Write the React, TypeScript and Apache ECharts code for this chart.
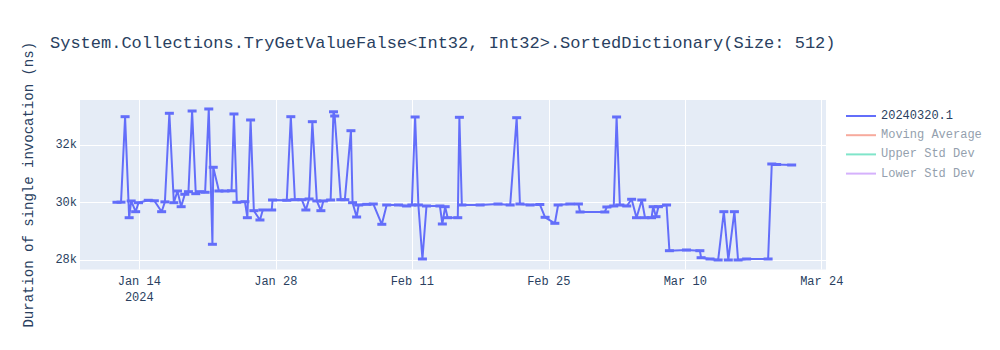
import React, { useEffect, useRef } from "react";
import * as echarts from "echarts";

const dates: string[] = [
  "2024-01-11 17:00", "2024-01-12 03:00", "2024-01-12 13:00", "2024-01-12 23:00", "2024-01-13 04:00",
  "2024-01-13 15:00", "2024-01-13 22:00", "2024-01-14 22:00", "2024-01-15 13:00", "2024-01-16 07:00",
  "2024-01-16 15:00", "2024-01-17 02:00", "2024-01-17 13:00", "2024-01-17 22:00", "2024-01-18 07:00",
  "2024-01-18 16:00", "2024-01-19 01:00", "2024-01-19 10:00", "2024-01-19 19:00", "2024-01-20 05:00",
  "2024-01-20 18:00", "2024-01-21 03:00", "2024-01-21 12:00", "2024-01-21 14:00", "2024-01-22 04:00",
  "2024-01-22 19:00", "2024-01-23 11:00", "2024-01-23 17:00", "2024-01-24 00:00", "2024-01-24 20:00",
  "2024-01-25 02:00", "2024-01-25 10:00", "2024-01-25 18:00", "2024-01-26 09:00", "2024-01-26 16:00",
  "2024-01-27 14:00", "2024-01-27 16:00", "2024-01-29 03:00", "2024-01-29 13:00", "2024-01-29 23:00",
  "2024-01-30 16:00", "2024-01-31 02:00", "2024-01-31 10:00", "2024-01-31 18:00", "2024-02-01 05:00",
  "2024-02-01 15:00", "2024-02-01 21:00", "2024-02-02 15:00", "2024-02-02 22:00", "2024-02-03 01:00",
  "2024-02-03 16:00", "2024-02-04 02:00", "2024-02-04 17:00", "2024-02-04 21:00", "2024-02-05 07:00",
  "2024-02-05 12:00", "2024-02-06 08:00", "2024-02-07 00:00", "2024-02-07 21:00", "2024-02-08 09:00",
  "2024-02-09 14:00", "2024-02-10 10:00", "2024-02-10 23:00", "2024-02-11 07:00", "2024-02-11 15:00",
  "2024-02-12 01:00", "2024-02-12 11:00", "2024-02-13 20:00", "2024-02-14 02:00", "2024-02-14 09:00",
  "2024-02-14 15:00", "2024-02-15 16:00", "2024-02-15 20:00", "2024-02-16 02:00", "2024-02-17 23:00",
  "2024-02-19 19:00", "2024-02-21 01:00", "2024-02-21 17:00", "2024-02-22 01:00", "2024-02-23 02:00",
  "2024-02-24 02:00", "2024-02-24 15:00", "2024-02-25 15:00", "2024-02-25 23:00", "2024-02-27 04:00",
  "2024-02-28 01:00", "2024-02-28 05:00", "2024-03-01 18:00", "2024-03-01 23:00", "2024-03-02 16:00",
  "2024-03-02 23:00", "2024-03-03 07:00", "2024-03-04 00:00", "2024-03-04 12:00", "2024-03-05 00:00",
  "2024-03-05 13:00", "2024-03-05 21:00", "2024-03-06 13:00", "2024-03-06 17:00", "2024-03-07 00:00",
  "2024-03-07 06:00", "2024-03-08 02:00", "2024-03-08 09:00", "2024-03-10 03:00", "2024-03-11 12:00",
  "2024-03-11 15:00", "2024-03-12 13:00", "2024-03-13 09:00", "2024-03-13 23:00", "2024-03-14 10:00",
  "2024-03-15 01:00", "2024-03-15 10:00", "2024-03-16 07:00", "2024-03-18 12:00", "2024-03-18 21:00",
  "2024-03-19 09:00", "2024-03-20 22:00",
];

const values: number[] = [
  30016, 30020, 32980, 29482, 30061,
  29690, 30002, 30085, 30068, 29690,
  30030, 33098, 30002, 30407, 29863,
  30293, 30383, 33177, 30314, 30383,
  30362, 33247, 28561, 31228, 30407,
  30407, 30414, 33074, 30016, 30036,
  29482, 32866, 29725, 29403, 29749,
  29749, 30095, 30085, 32980, 30106,
  30106, 29749, 30130, 32807, 30061,
  29725, 30061, 30095, 33150, 33004,
  30106, 30106, 32495, 30002, 29506,
  29922, 29946, 29957, 29254, 29922,
  29922, 29888, 29922, 32970, 29922,
  28052, 29888, 29888, 29264, 29863,
  29482, 29482, 32959, 29922, 29922,
  29957, 29922, 32945, 29957, 29922,
  29940, 29496, 29288, 29922, 29957,
  29957, 29680, 29680, 29853, 29888,
  32970, 29922, 29888, 30120, 29482,
  30095, 29482, 29482, 29863, 29517,
  29863, 29922, 28339, 28364, 28339,
  28097, 28052, 28018, 29690, 28018,
  29690, 28018, 28052, 28052, 31342,
  31325, 31307,
];

const xTickDates: string[] = ["2024-01-14", "2024-01-28", "2024-02-11", "2024-02-25", "2024-03-10", "2024-03-24"];
const yTicks: number[] = [28000, 30000, 32000];
const seriesNames: string[] = ["20240320.1", "Moving Average", "Upper Std Dev", "Lower Std Dev"];
const seriesColors: string[] = ["#636efa", "#f7aa9d", "#80e5ca", "#d5b1fc"];

const MONTHS = ["Jan", "Feb", "Mar", "Apr", "May", "Jun", "Jul", "Aug", "Sep", "Oct", "Nov", "Dec"];
const DAY = 86400000;
const ORIGIN = Date.UTC(2024, 0, 14);

function toDay(s: string): number {
  const [d, t] = s.split(" ");
  const [Y, M, D] = d.split("-").map(Number);
  const [h, m] = (t || "00:00").split(":").map(Number);
  return (Date.UTC(Y, M - 1, D, h, m) - ORIGIN) / DAY;
}

const FONT = "'Courier New', 'Liberation Mono', monospace";
const TXT = "#2a3f5f";

export default function App() {
  const ref = useRef<HTMLDivElement>(null);
  useEffect(() => {
    if (!ref.current) return;
    const chart = echarts.init(ref.current, undefined, { renderer: "svg" });
    const data = dates.map((d, i) => [toDay(d), values[i]]);
    const xTicks = xTickDates.map(toDay);
    chart.setOption({
      animation: false,
      backgroundColor: "#ffffff",
      title: {
        text: "System.Collections.TryGetValueFalse<Int32, Int32>.SortedDictionary(Size: 512)",
        left: 50,
        top: 35,
        padding: 0,
        textStyle: { fontFamily: FONT, fontSize: 17, fontWeight: "normal", color: TXT },
      },
      legend: {
        orient: "vertical",
        left: 846,
        top: 109,
        padding: 0,
        itemWidth: 30,
        itemHeight: 2,
        itemGap: 5.2,
        icon: "rect",
        selectedMode: false,
        textStyle: { fontFamily: FONT, fontSize: 12, color: TXT, lineHeight: 14 },
        data: seriesNames.map((n, i) => ({
          name: n,
          textStyle: { color: i === 0 ? TXT : "#949fae" },
        })),
      },
      grid: { left: 80, right: 174, top: 100, bottom: 80.5, show: true, backgroundColor: "#e5ecf6", borderWidth: 0 },
      xAxis: {
        type: "value",
        min: toDay("2024-01-07 22:00"),
        max: toDay("2024-03-24 10:30"),
        axisLine: { show: false },
        axisTick: { show: false, customValues: xTicks },
        splitLine: { show: true, lineStyle: { color: "#ffffff", width: 1 } },
        axisLabel: {
          customValues: xTicks,
          margin: 4,
          fontFamily: FONT,
          fontSize: 12,
          color: TXT,
          lineHeight: 16,
          formatter: (v: number) => {
            const dt = new Date(ORIGIN + v * DAY);
            const s = MONTHS[dt.getUTCMonth()] + " " + dt.getUTCDate();
            return Math.abs(v) < 1e-6 ? s + "\n2024" : s;
          },
        },
      },
      yAxis: {
        type: "value",
        min: 27688,
        max: 33558,
        name: "Duration of single invocation (ns)",
        nameLocation: "middle",
        nameGap: 44,
        nameTextStyle: { fontFamily: FONT, fontSize: 14, color: TXT },
        axisLine: { show: false },
        axisTick: { show: false, customValues: yTicks },
        splitLine: { show: true, lineStyle: { color: "#ffffff", width: 1 } },
        axisLabel: {
          customValues: yTicks,
          margin: 3,
          fontFamily: FONT,
          fontSize: 12,
          color: TXT,
          formatter: (v: number) => Math.round(v / 1000) + "k",
        },
      },
      series: [
        {
          name: seriesNames[0],
          type: "line",
          data,
          color: seriesColors[0],
          lineStyle: { width: 2, color: seriesColors[0] },
          itemStyle: { color: seriesColors[0] },
          symbol: "rect",
          symbolSize: [9, 3],
          showAllSymbol: true,
        },
        ...seriesNames.slice(1).map((n, i) => ({
          name: n,
          type: "line",
          data: [],
          color: seriesColors[i + 1],
          lineStyle: { width: 2, color: seriesColors[i + 1] },
          itemStyle: { color: seriesColors[i + 1] },
        })),
      ],
    });
    return () => chart.dispose();
  }, []);
  return <div ref={ref} style={{ width: 1000, height: 350, position: "absolute", left: 0, top: 0 }} />;
}
